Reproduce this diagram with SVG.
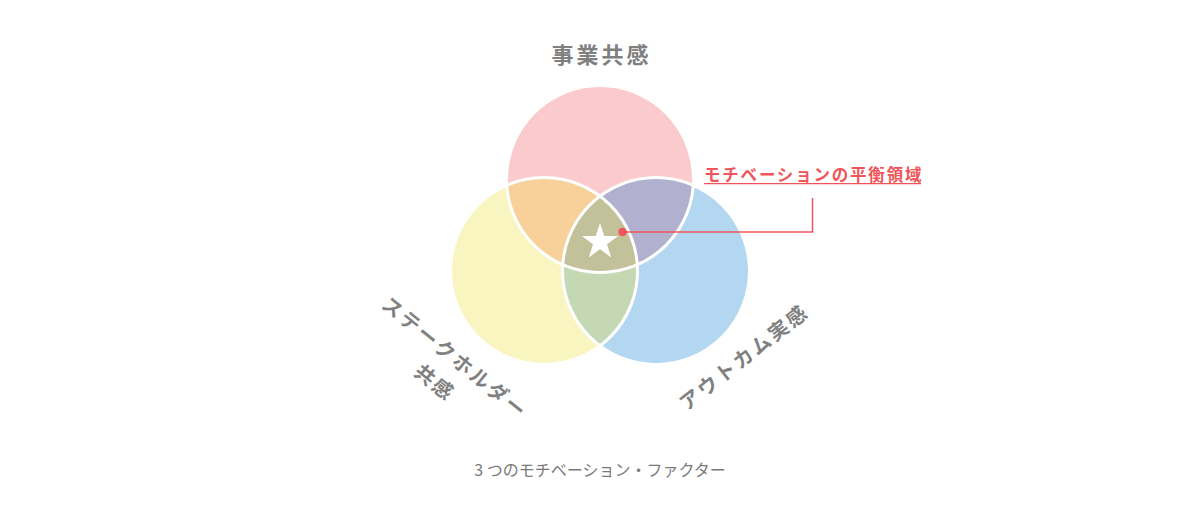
<svg xmlns="http://www.w3.org/2000/svg" width="1200" height="525" viewBox="0 0 1200 525">
<style>
.lbl{font-family:"Noto Sans CJK JP","Liberation Sans",sans-serif;font-weight:bold;fill:#808080;}
.cap{font-family:"Noto Sans CJK JP","Liberation Sans",sans-serif;font-size:16px;fill:#7a7a7a;}
.red{font-family:"Noto Sans CJK JP","Liberation Sans",sans-serif;font-weight:bold;font-size:16.5px;fill:#f0555a;letter-spacing:1.8px;}
.outline{fill:none;stroke:#ffffff;stroke-width:3;}
</style>
<defs>
<circle id="cP" cx="600" cy="179" r="93.5"/>
<circle id="cY" cx="544" cy="271" r="93.5"/>
<circle id="cB" cx="656" cy="271" r="93.5"/>
<clipPath id="clipP"><use href="#cP"/></clipPath>
<clipPath id="clipY"><use href="#cY"/></clipPath>
<clipPath id="clipB"><use href="#cB"/></clipPath>
</defs>
<rect width="1200" height="525" fill="#ffffff"/>

<g id="node-business">
<use href="#cP" fill="#fbcacc"/>
<text class="lbl" x="601.5" y="63" font-size="22" letter-spacing="3" text-anchor="middle">事業共感</text>
</g>
<g id="node-stakeholder">
<use href="#cY" fill="#f9f5c1"/>
<g transform="translate(454,357) rotate(39)">
<text class="lbl" x="1.2" y="7.4" font-size="20" letter-spacing="2.5" text-anchor="middle">ステークホルダー</text>
<text class="lbl" x="1.2" y="39.4" font-size="20" letter-spacing="2.5" text-anchor="middle">共感</text>
</g>
</g>
<g id="node-outcome">
<use href="#cB" fill="#b3d6f1"/>
<g transform="translate(743,358) rotate(-38)">
<text class="lbl" x="1.2" y="7.4" font-size="20" letter-spacing="2.5" text-anchor="middle">アウトカム実感</text>
</g>
</g>

<g id="overlaps">
<g clip-path="url(#clipP)"><use href="#cY" fill="#f7d199"/></g>
<g clip-path="url(#clipP)"><use href="#cB" fill="#b1b0ce"/></g>
<g clip-path="url(#clipY)"><use href="#cB" fill="#c5d8b4"/></g>
<g clip-path="url(#clipP)"><g clip-path="url(#clipY)"><use href="#cB" fill="#c3c19a"/></g></g>
<use href="#cP" class="outline"/>
<use href="#cY" class="outline"/>
<use href="#cB" class="outline"/>
</g>

<g id="node-center">
<polygon fill="#ffffff" points="600,223 604.3,236.1 618.1,236.1 607,244.3 611.2,257.4 600,249.3 588.8,257.4 593,244.3 581.9,236.1 595.7,236.1"/>
</g>

<g id="connectors">
<polyline points="622.5,232 812.5,232 812.5,198" fill="none" stroke="#f0555a" stroke-width="1.5"/>
<circle cx="622.5" cy="232" r="4.2" fill="#f0555a"/>
</g>

<g id="node-callout">
<text class="red" x="704" y="181">モチベーションの平衡領域</text>
<line x1="704" y1="183.6" x2="921" y2="183.6" stroke="#f0555a" stroke-width="1.4"/>
</g>

<text class="cap" x="600" y="475.5" text-anchor="middle">3 つのモチベーション・ファクター</text>
</svg>
